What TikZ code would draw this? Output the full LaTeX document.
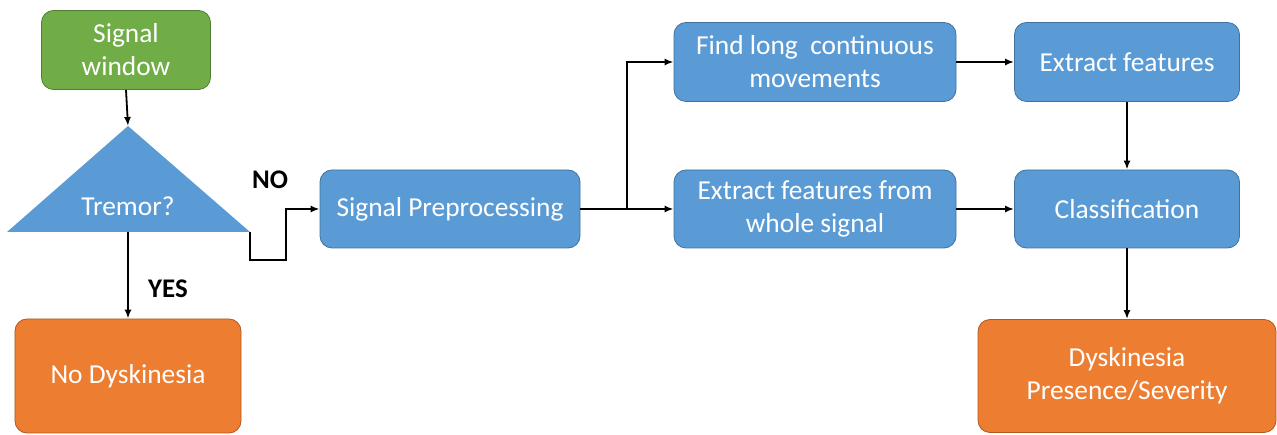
\documentclass[tikz,border=0pt]{standalone}
\usepackage{fontspec}
\setmainfont{Carlito}
\usepackage{tikz}
\usetikzlibrary{arrows.meta}
\definecolor{flow blue}{HTML}{5B9BD5}
\definecolor{flow blue edge}{HTML}{41719C}
\definecolor{flow green}{HTML}{70AD47}
\definecolor{flow green edge}{HTML}{507E32}
\definecolor{flow orange}{HTML}{ED7D31}
\definecolor{flow orange edge}{HTML}{AE5A21}
\tikzset{
	box/.style = {rounded corners = 12bp, align = center, text = white,
		font = \fontsize{27.5}{33}\selectfont, line width = 0.8bp, inner sep = 0pt},
	procbox/.style = {box, fill = flow blue, draw = flow blue edge},
	startbox/.style = {box, fill = flow green, draw = flow green edge},
	endbox/.style = {box, fill = flow orange, draw = flow orange edge},
	flow/.style = {line width = 1.8bp, -{Latex[length=9bp, width=7bp]}},
	answer/.style = {font = \fontsize{27}{30}\selectfont\bfseries}
}
\begin{document}
\begin{tikzpicture}[x = 1bp, y = -1bp]
			\useasboundingbox (0, 0) rectangle (1277, 435);
			% left column
			\node[startbox, minimum width = 169bp, minimum height = 79bp] (window) at (126, 50) {Signal\\window};
			\coordinate (tremor apex) at (128, 126);
			\coordinate (tremor left) at (7, 232);
			\coordinate (tremor right) at (250, 232);
			\coordinate (tremor base) at (128, 232);
			\fill[flow blue] (tremor apex) -- (tremor right) -- (tremor left) -- cycle;
			\node[text = white, font = \fontsize{27.5}{33}\selectfont] (tremor) at (128, 206) {Tremor?};
			\node[endbox, minimum width = 226bp, minimum height = 114bp] (nodysk) at (128, 376) {No Dyskinesia};
			% middle and right
			\node[procbox, minimum width = 260bp, minimum height = 78bp] (prep) at (450, 209) {Signal Preprocessing};
			\node[procbox, minimum width = 282bp, minimum height = 79bp] (findlong) at (815, 62) {Find long\ \ continuous\\movements};
			\node[procbox, minimum width = 282bp, minimum height = 78bp] (whole) at (815, 209) {Extract features from\\whole signal};
			\node[procbox, minimum width = 225bp, minimum height = 79bp] (features) at (1127, 62) {Extract features};
			\node[procbox, minimum width = 225bp, minimum height = 78bp] (classify) at (1127, 209) {Classification};
			\node[endbox, minimum width = 298bp, minimum height = 113bp] (severity) at (1127, 376) {Dyskinesia\\Presence/Severity};
			\coordinate (split) at (627, 209);
			% connectors
			\draw[flow] (window.south) -- (tremor apex);
			\draw[flow] (tremor base) -- (nodysk.north);
			\draw[flow] (tremor right) -- ++(0, 28) -| (286, 209) -- (prep.west);
			\draw[flow] (prep.east) -- (split) |- (findlong.west);
			\draw[flow] (split) -- (whole.west);
			\draw[flow] (findlong.east) -- (features.west);
			\draw[flow] (whole.east) -- (classify.west);
			\draw[flow] (features.south) -- (classify.north);
			\draw[flow] (classify.south) -- (severity.north);
			% answers
			\node[answer] (yes) at (168, 289) {YES};
			\node[answer] (no) at (270, 180) {NO};
		\end{tikzpicture}
\end{document}
